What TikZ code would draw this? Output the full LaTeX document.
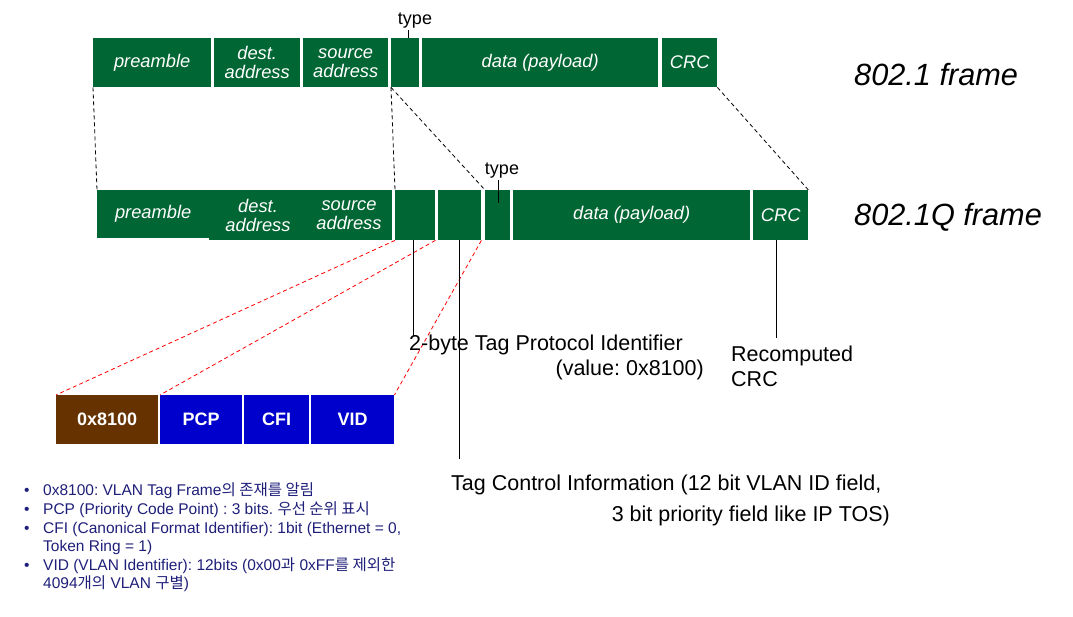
\documentclass[tikz,border=0pt]{standalone}
\usepackage{fontspec}
\setmainfont{Liberation Sans}
\newfontfamily\kr[Scale=1.0]{Noto Sans CJK KR}
\definecolor{fgreen}{HTML}{006633}
\definecolor{tbrown}{HTML}{663300}
\definecolor{tblue}{HTML}{0000CC}
\definecolor{navy}{HTML}{1F1F7A}
\frenchspacing
\tikzset{
  fr/.style={fill=fgreen, inner sep=0pt, anchor=north west, text=white,
    font=\fontsize{18.3}{19}\selectfont\itshape, align=center},
  tg/.style={inner sep=0pt, anchor=north west, text=white, minimum height=49pt,
    font=\fontsize{18}{19}\selectfont\bfseries},
  blk/.style={line width=0.8pt, dash pattern=on 4pt off 3pt},
  red/.style={draw=red, line width=0.8pt, dash pattern=on 4pt off 3pt},
  lbl/.style={inner sep=0pt, font=\fontsize{21.5}{25}\selectfont},
  bl/.style={inner sep=0pt, anchor=base west, text=navy, font=\fontsize{15.5}{16}\selectfont},
}
\begin{document}
\begin{tikzpicture}[x=1pt,y=-1pt]
\useasboundingbox (0,0) rectangle (1073,617);
% 802.1 frame
\node[fr, minimum width=118pt, minimum height=49pt] (pre1) at (93,38) {preamble};
\node[fr, minimum width=86pt, minimum height=49pt] (dst1) at (214,38) {dest.\\address};
\node[fr, minimum width=85pt, minimum height=49pt] (src1) at (303,38) {source\\address};
\node[fr, minimum width=28pt, minimum height=49pt] (typ1) at (391,38) {};
\node[fr, minimum width=236pt, minimum height=49pt] (dat1) at (422,38) {data (payload)};
\node[fr, minimum width=55pt, minimum height=49pt] (crc1) at (662,38) {CRC};
\node[inner sep=0pt, font=\fontsize{18}{20}\selectfont] (tl1) at (415,21) {type};
\draw[line width=0.8pt] (408,30) -- (408,38);
\node[inner sep=0pt, anchor=west, font=\fontsize{30.7}{32}\selectfont\itshape] (f1) at (854,75) {802.1 frame};
% 802.1Q frame
\node[fr, minimum width=112pt, minimum height=48pt] (pre2) at (97,190) {preamble};
\node[fr, minimum width=183pt, minimum height=50pt] (ds2) at (209,190) {};
\node[inner sep=0pt, text=white, align=center, font=\fontsize{18.3}{19}\selectfont\itshape] (dst2) at (258,215) {dest.\\address};
\node[inner sep=0pt, text=white, align=center, font=\fontsize{18.3}{19}\selectfont\itshape] (src2) at (349,215) {source\\address};
\node[fr, minimum width=40pt, minimum height=50pt] (b1) at (395,190) {};
\node[fr, minimum width=43pt, minimum height=50pt] (b2) at (438,190) {};
\node[fr, minimum width=25pt, minimum height=50pt] (typ2) at (485,190) {};
\node[fr, minimum width=237pt, minimum height=50pt] (dat2) at (513,190) {data (payload)};
\node[fr, minimum width=55pt, minimum height=50pt] (crc2) at (753,190) {CRC};
\node[inner sep=0pt, font=\fontsize{18}{20}\selectfont] (tl2) at (502,171) {type};
\draw[line width=0.8pt] (498,180) -- (498,203);
\node[inner sep=0pt, anchor=west, font=\fontsize{30.7}{32}\selectfont\itshape] (f2) at (854,217) {802.1Q frame};
% black dashed
\draw[blk] (pre1.south west) -- (pre2.north west);
\draw[blk] (typ1.south west) -- (b1.north west);
\draw[blk] (typ1.south west) -- (typ2.north west);
\draw[blk] (crc1.south east) -- (crc2.north east);
% tag boxes
\node[tg, fill=tbrown, minimum width=102pt] (t1) at (56,395) {0x8100};
\node[tg, fill=tblue, minimum width=82pt] (t2) at (160,395) {PCP};
\node[tg, fill=tblue, minimum width=65pt] (t3) at (244,395) {CFI};
\node[tg, fill=tblue, minimum width=83pt] (t4) at (311,395) {VID};
% red dashed
\draw[red] (b1.south west) -- (t1.north west);
\draw[red] (b1.south east) -- (t2.north west);
\draw[red] (b2.south east) -- (t4.north east);
% callout lines
\coordinate (e1) at (413,336);
\coordinate (e2) at (459,459);
\coordinate (e3) at (776,338);
\draw[line width=0.8pt] (b1.south -| e1) -- (e1);
\draw[line width=0.8pt] (b2.south -| e2) -- (e2);
\draw[line width=0.8pt] (crc2.south -| e3) -- (e3);
\node[lbl, anchor=west] (tpi) at (409,345) {2-byte Tag Protocol Identifier};
\node[lbl, anchor=east] (tpv) at (704,370) {(value: 0x8100)};
\node[lbl, anchor=west, align=left] (rc) at (731,366) {Recomputed\\CRC};
\node[lbl, anchor=west] (tci1) at (451,485) {Tag Control Information (12 bit VLAN ID field,};
\node[lbl, anchor=east] (tci2) at (890,516) {3 bit priority field like IP TOS)};
% bullets
\node[bl] (u1) at (24,495) {•};
\node[bl] (u2) at (24,514) {•};
\node[bl] (u3) at (24,533) {•};
\node[bl] (u4) at (24,570) {•};
\node[bl] (l1) at (43,495) {0x8100: VLAN Tag Frame{\kr 의 존재를 알림}};
\node[bl] (l2) at (43,514) {PCP (Priority Code Point) : 3 bits. {\kr 우선 순위 표시}};
\node[bl] (l3) at (43,533) {CFI (Canonical Format Identifier): 1bit (Ethernet = 0,};
\node[bl] (l4) at (43,551) {Token Ring = 1)};
\node[bl] (l5) at (43,570) {VID (VLAN Identifier): 12bits (0x00{\kr 과} 0xFF{\kr 를 제외한}};
\node[bl] (l6) at (43,588) {4094{\kr 개의} VLAN {\kr 구별})};
\end{tikzpicture}
\end{document}
